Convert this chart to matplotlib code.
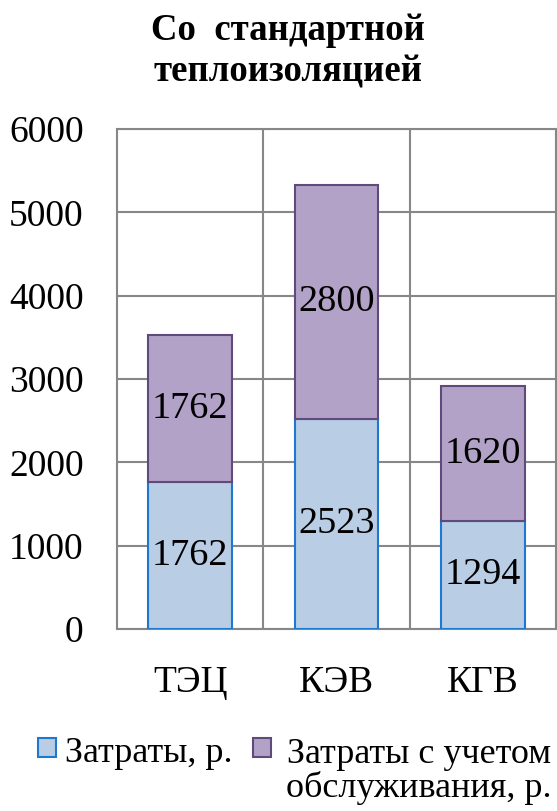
import matplotlib
matplotlib.use("Agg")
import matplotlib.pyplot as plt
from matplotlib.patches import Rectangle

categories = ["ТЭЦ", "КЭВ", "КГВ"]
costs = [1762, 2523, 1294]
costs_service = [1762, 2800, 1620]
series_names = ["Затраты, р.", "Затраты с учетом\nобслуживания, р."]
title = "Со  стандартной\nтеплоизоляцией"

plt.rcParams['font.family'] = ['Liberation Serif', 'DejaVu Serif']

W, H = 557, 811
fig = plt.figure(figsize=(W / 100, H / 100), dpi=100)
ax = fig.add_axes([117 / W, 1 - 629 / H, (556 - 117) / W, (629 - 129) / H])

blue_fill, blue_edge = "#B9CDE5", "#1F77CF"
purp_fill, purp_edge = "#B3A2C7", "#604A7B"
grid_c = "#878787"

x = list(range(len(categories)))
bw = 0.574
ax.bar(x, costs, width=bw, color=blue_fill, edgecolor=blue_edge, linewidth=1.5, zorder=3)
ax.bar(x, costs_service, width=bw, bottom=costs, color=purp_fill, edgecolor=purp_edge,
       linewidth=1.5, zorder=3)

for i in x:
    ax.text(i, costs[i] / 2, str(costs[i]), ha="center", va="center", fontsize=27.5, zorder=4)
    ax.text(i, costs[i] + costs_service[i] / 2, str(costs_service[i]), ha="center",
            va="center", fontsize=27.5, zorder=4)

ax.set_xlim(-0.5, len(categories) - 0.5)
ax.set_ylim(0, 6000)
ax.set_yticks(range(0, 6001, 1000))
ax.tick_params(axis="y", length=0, pad=24, labelsize=27)
ax.set_xticks(x)
ax.set_xticklabels(categories)
ax.tick_params(axis="x", length=0, pad=26, labelsize=27)
ax.set_xticks([0.5, 1.5], minor=True)
ax.tick_params(axis="x", which="minor", length=0)
ax.yaxis.grid(True, color=grid_c, linewidth=1.5, zorder=0)
ax.xaxis.grid(True, which="minor", color=grid_c, linewidth=1.5, zorder=0)
ax.set_axisbelow(True)
for s in ax.spines.values():
    s.set_color(grid_c)
    s.set_linewidth(1.5)

fig.text(288 / W, 1 - 51 / H, title, ha="center", va="center",
         fontsize=26.5, fontweight="bold", linespacing=1.25)

# legend
fig.patches.append(Rectangle((38 / W, 1 - 757 / H), 18 / W, 19 / H, transform=fig.transFigure,
                             facecolor=blue_fill, edgecolor=blue_edge, linewidth=1.5))
fig.text(65 / W, 1 - 762 / H, series_names[0], ha="left", va="baseline", fontsize=26)
fig.patches.append(Rectangle((253 / W, 1 - 757 / H), 18 / W, 19 / H, transform=fig.transFigure,
                             facecolor=purp_fill, edgecolor=purp_edge, linewidth=1.5))
fig.text(419 / W, 1 - 797 / H, series_names[1], ha="center", va="baseline", fontsize=26,
         multialignment="center", linespacing=1.0)

fig.savefig("out.png", dpi=100, facecolor="white")
